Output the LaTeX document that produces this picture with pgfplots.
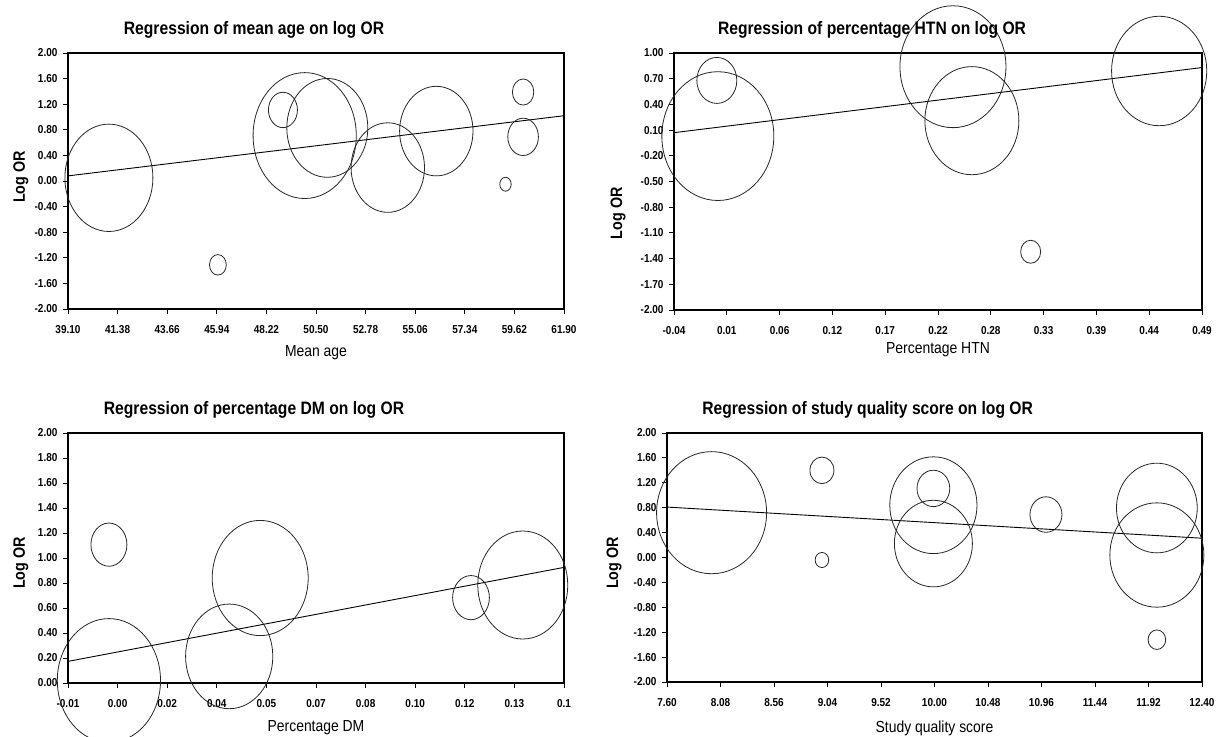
\documentclass[border=0pt]{standalone}
\usepackage{fontspec}
\setmainfont[FakeStretch=0.87]{Liberation Sans}
\usepackage{pgfplots}
\usepackage{pgfplotstable}
\pgfplotsset{compat=1.18}

% bubble tables: x, y, horizontal radius of bubble (pt)
\pgfplotstableread{
x y r
40.98 0.05 44
45.99 -1.31 8.4
48.98 1.11 14.5
49.98 0.71 51.6
51.02 0.83 40.5
53.80 0.21 36.7
56.03 0.78 36.7
59.21 -0.05 5.7
60.02 1.39 10.7
60.02 0.69 15.3
}\tabAge
\pgfplotstableread{
x y r
0.004 0.03 56
0.003 0.68 20
0.240 0.84 53
0.259 0.21 47
0.318 -1.32 10
0.447 0.79 47.6
}\tabHTN
\pgfplotstableread{
x y r
0.0012 0.02 51.6
0.0012 1.107 18
0.040 0.213 43.6
0.050 0.84 48
0.118 0.683 18.4
0.1347 0.784 45
}\tabDM
\pgfplotstableread{
x y r
8.00 0.72 55
8.99 1.40 12
8.99 -0.04 6.8
9.99 0.84 43.6
9.99 1.11 16.4
9.99 0.224 39
11.00 0.69 16
11.995 0.795 40.4
11.995 0.04 47
11.995 -1.32 8.8
}\tabQual

\pgfplotsset{
  panel/.style={
    scale only axis, clip=false,
    axis line style={line width=1.2pt},
    tick align=outside, xtick pos=bottom, ytick pos=left,
    major tick length=5pt,
    tick style={line width=1pt, black},
    /pgf/number format/assume math mode=true,
    ticklabel style={font=\bfseries\fontsize{11.5}{13}\selectfont},
    xticklabel style={yshift=-8pt},
    yticklabel style={xshift=-2pt, /pgf/number format/.cd, fixed, fixed zerofill, precision=2},
    title style={font=\bfseries\fontsize{18}{21}\selectfont, at={(0.375,1)}, anchor=base, yshift=12.5pt},
    xlabel style={font=\fontsize{16}{19}\selectfont, anchor=center},
    ylabel style={font=\bfseries\fontsize{16.5}{19}\selectfont, anchor=center},
  },
  bub/.style={scatter, only marks, mark=o,
    scatter/use mapped color={draw=black!85},
    mark options={line width=0.8pt, yscale=#1},
    visualization depends on={\thisrow{r}\as\rad},
    scatter/@pre marker code/.append style={/tikz/mark size=\rad}},
  reg/.style={black, line width=0.9pt, no marks},
}

\begin{document}
\begin{tikzpicture}
\useasboundingbox (0,0) rectangle (1225pt,-736pt);

% Panel 1
\begin{axis}[panel, at={(68pt,-53pt)}, anchor=north west, width=496pt, height=256pt,
  xmin=39.10, xmax=61.90, ymin=-2, ymax=2,
  xtick={39.10,41.38,43.66,45.94,48.22,50.50,52.78,55.06,57.34,59.62,61.90},
  xticklabel style={/pgf/number format/.cd, fixed, fixed zerofill, precision=2},
  ytick={-2,-1.6,-1.2,-0.8,-0.4,0,0.4,0.8,1.2,1.6,2},
  title={Regression of mean age on log OR},
  xlabel={Mean age}, ylabel={Log OR},
  xlabel style={at={(axis description cs:0.5,-0.172)}},
  ylabel style={at={(axis description cs:-0.095,0.516)}}]
\addplot[bub=1.22] table[x=x,y=y] {\tabAge};
\addplot[reg] coordinates {(39.10,0.08) (61.90,1.02)};
\end{axis}

% Panel 2
\begin{axis}[panel, at={(674pt,-53pt)}, anchor=north west, width=528pt, height=257pt,
  xmin=-0.04, xmax=0.49, ymin=-2, ymax=1,
  xtick={-0.04,0.013,0.066,0.119,0.172,0.225,0.278,0.331,0.384,0.437,0.49},
  xticklabels={-0.04,0.01,0.06,0.12,0.17,0.22,0.28,0.33,0.39,0.44,0.49},
  ytick={-2,-1.7,-1.4,-1.1,-0.8,-0.5,-0.2,0.1,0.4,0.7,1},
  title={Regression of percentage HTN on log OR},
  xlabel={Percentage HTN}, ylabel={Log OR},
  xlabel style={at={(axis description cs:0.5,-0.156)}},
  ylabel style={at={(axis description cs:-0.106,0.377)}}]
\addplot[bub=1.15] table[x=x,y=y] {\tabHTN};
\addplot[reg] coordinates {(-0.04,0.07) (0.49,0.83)};
\end{axis}

% Panel 3
\begin{axis}[panel, at={(68pt,-433pt)}, anchor=north west, width=496pt, height=250pt,
  xmin=-0.012, xmax=0.148, ymin=0, ymax=2,
  xtick={-0.012,0.004,0.020,0.036,0.052,0.068,0.084,0.100,0.116,0.132,0.148},
  xticklabels={-0.01,0.00,0.02,0.04,0.05,0.07,0.08,0.10,0.12,0.13,0.1},
  ytick={0,0.2,0.4,0.6,0.8,1,1.2,1.4,1.6,1.8,2},
  title={Regression of percentage DM on log OR},
  xlabel={Percentage DM}, ylabel={Log OR},
  xlabel style={at={(axis description cs:0.5,-0.18)}},
  ylabel style={at={(axis description cs:-0.095,0.48)}}]
\addplot[bub=1.2] table[x=x,y=y] {\tabDM};
\addplot[reg] coordinates {(-0.012,0.173) (0.148,0.925)};
\end{axis}

% Panel 4
\begin{axis}[panel, at={(667pt,-433pt)}, anchor=north west, width=535pt, height=249pt,
  xmin=7.60, xmax=12.40, ymin=-2, ymax=2,
  xtick={7.60,8.08,8.56,9.04,9.52,10.00,10.48,10.96,11.44,11.92,12.40},
  xticklabel style={/pgf/number format/.cd, fixed, fixed zerofill, precision=2},
  ytick={-2,-1.6,-1.2,-0.8,-0.4,0,0.4,0.8,1.2,1.6,2},
  title={Regression of study quality score on log OR},
  xlabel={Study quality score}, ylabel={Log OR},
  xlabel style={at={(axis description cs:0.5,-0.185)}},
  ylabel style={at={(axis description cs:-0.099,0.478)}}]
\addplot[bub=1.11] table[x=x,y=y] {\tabQual};
\addplot[reg] coordinates {(7.60,0.81) (12.40,0.31)};
\end{axis}
\end{tikzpicture}
\end{document}
